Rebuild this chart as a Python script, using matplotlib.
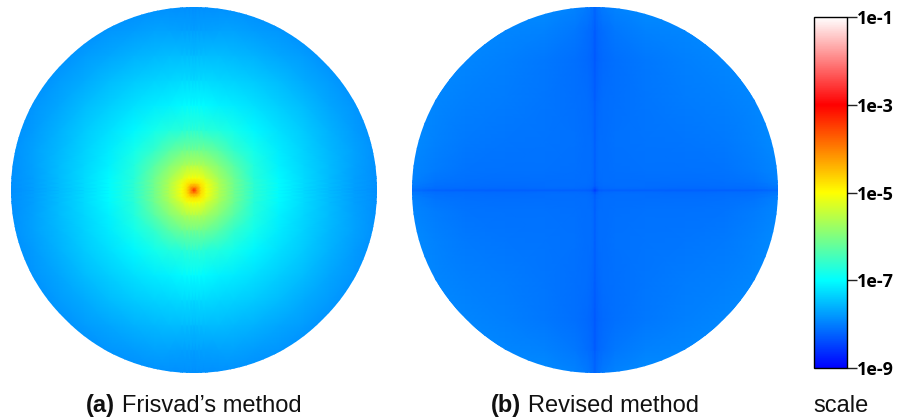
import numpy as np
import matplotlib
matplotlib.use('Agg')
import matplotlib.pyplot as plt
from matplotlib.colors import LinearSegmentedColormap, Normalize
from matplotlib.patches import Circle
from matplotlib.cm import ScalarMappable

# log10 of the error.
# offsets are pixels from the disc centre, tables are one quadrant (row = y, col = x)
offsets_a = [0, 3, 7, 12, 25, 40, 60, 85, 110, 135, 160, 185]
quadrant_a = [
    [-3.30, -4.10, -4.70, -5.05, -5.62, -6.12, -6.65, -7.03, -7.30, -7.54, -7.76, -7.90],
    [-4.10, -4.20, -4.75, -5.08, -5.62, -6.12, -6.65, -7.03, -7.29, -7.53, -7.75, -7.89],
    [-4.70, -4.75, -4.85, -5.12, -5.65, -6.12, -6.65, -7.03, -7.29, -7.53, -7.74, -7.89],
    [-5.05, -5.08, -5.12, -5.32, -5.72, -6.15, -6.70, -7.04, -7.29, -7.53, -7.74, -7.89],
    [-5.62, -5.62, -5.65, -5.72, -5.97, -6.32, -6.75, -7.10, -7.32, -7.52, -7.72, -7.88],
    [-6.12, -6.12, -6.12, -6.15, -6.32, -6.60, -6.85, -7.15, -7.35, -7.55, -7.72, -7.88],
    [-6.65, -6.65, -6.65, -6.70, -6.75, -6.85, -7.05, -7.25, -7.42, -7.60, -7.78, -7.90],
    [-7.03, -7.03, -7.03, -7.04, -7.10, -7.15, -7.25, -7.38, -7.53, -7.70, -7.82, -7.95],
    [-7.30, -7.29, -7.29, -7.29, -7.32, -7.35, -7.42, -7.53, -7.66, -7.78, -7.90, -8.00],
    [-7.54, -7.53, -7.53, -7.53, -7.52, -7.55, -7.60, -7.70, -7.78, -7.88, -7.95, -8.00],
    [-7.76, -7.75, -7.74, -7.74, -7.72, -7.72, -7.78, -7.82, -7.90, -7.95, -8.00, -8.00],
    [-7.90, -7.89, -7.89, -7.89, -7.88, -7.88, -7.90, -7.95, -8.00, -8.00, -8.00, -8.00],
]

offsets_b = [0, 1.5, 4, 8, 20, 50, 90, 130, 160, 185]
quadrant_b = [
    [-8.52, -8.40, -8.28, -8.25, -8.24, -8.24, -8.25, -8.24, -8.22, -8.14],
    [-8.40, -8.30, -8.20, -8.18, -8.17, -8.17, -8.18, -8.17, -8.15, -8.07],
    [-8.28, -8.20, -8.16, -8.15, -8.14, -8.14, -8.15, -8.14, -8.11, -8.02],
    [-8.25, -8.18, -8.15, -8.14, -8.13, -8.13, -8.13, -8.11, -8.08, -7.98],
    [-8.24, -8.17, -8.14, -8.13, -8.11, -8.10, -8.10, -8.08, -8.03, -7.95],
    [-8.24, -8.17, -8.14, -8.13, -8.10, -8.08, -8.07, -8.04, -7.98, -7.90],
    [-8.26, -8.20, -8.16, -8.14, -8.11, -8.07, -8.03, -7.99, -7.94, -7.90],
    [-8.30, -8.24, -8.19, -8.16, -8.11, -8.05, -7.99, -7.94, -7.90, -7.90],
    [-8.28, -8.21, -8.16, -8.13, -8.06, -7.98, -7.94, -7.90, -7.90, -7.90],
    [-8.18, -8.12, -8.07, -8.03, -7.96, -7.90, -7.90, -7.90, -7.90, -7.90],
]

scale_colors = ['#0000ff', '#00ffff', '#ffff00', '#ff0000', '#ffffff']
scale_ticks = [-9, -7, -5, -3, -1]
scale_labels = ['1e-9', '1e-7', '1e-5', '1e-3', '1e-1']

W, H = 898, 418


def px_axes(fig, left, top, right, bottom):
    return fig.add_axes([left / W, 1 - bottom / H, (right - left) / W, (bottom - top) / H])


def draw_disc(ax, offsets, quadrant, cmap, norm):
    q = np.array(quadrant)
    off = np.array(offsets, dtype=float)
    xs = np.concatenate([-off[:0:-1], off])
    top = np.hstack([q[:, :0:-1], q])
    z = np.vstack([top[:0:-1], top])
    mesh = ax.pcolormesh(xs, xs, z, cmap=cmap, norm=norm, shading='gouraud',
                         rasterized=True)
    disc = Circle((0, 0), 183, transform=ax.transData)
    mesh.set_clip_path(disc)
    ax.set_xlim(-183.5, 183.5)
    ax.set_ylim(-183.5, 183.5)
    ax.axis('off')


def caption(fig, x, bold, rest):
    y = 1 - 412 / H
    fig.text((x - 7) / W, y, bold, ha='right', va='baseline', fontsize=17,
             fontweight='bold', family='Liberation Sans', color='#111111')
    fig.text(x / W, y, rest, ha='left', va='baseline', fontsize=17,
             family='Liberation Sans', color='#111111')


cmap = LinearSegmentedColormap.from_list('err', scale_colors, N=512)
norm = Normalize(-9, -1)

fig = plt.figure(figsize=(W / 100, H / 100), dpi=100)

ax_a = px_axes(fig, 10.5, 6.5, 377.5, 373.5)
draw_disc(ax_a, offsets_a, quadrant_a, cmap, norm)

ax_b = px_axes(fig, 411.5, 6.5, 778.5, 373.5)
draw_disc(ax_b, offsets_b, quadrant_b, cmap, norm)

cax = px_axes(fig, 814, 17, 847, 368)
cb = fig.colorbar(ScalarMappable(norm=norm, cmap=cmap), cax=cax)
cb.set_ticks(scale_ticks, labels=scale_labels)
cb.ax.tick_params(length=7.5, width=1, pad=0, labelsize=13, color='#222222')
for lab in cb.ax.get_yticklabels():
    lab.set_family('Open Sans')
    lab.set_fontweight('bold')
cb.outline.set_linewidth(1)

caption(fig, 122, '(a)', 'Frisvad\u2019s method')
caption(fig, 528, '(b)', 'Revised method')
fig.text(813 / W, 1 - 412 / H, 'scale', ha='left', va='baseline', fontsize=17,
         family='Liberation Sans', color='#111111')

fig.savefig('out.png', dpi=100)
plt.close(fig)
